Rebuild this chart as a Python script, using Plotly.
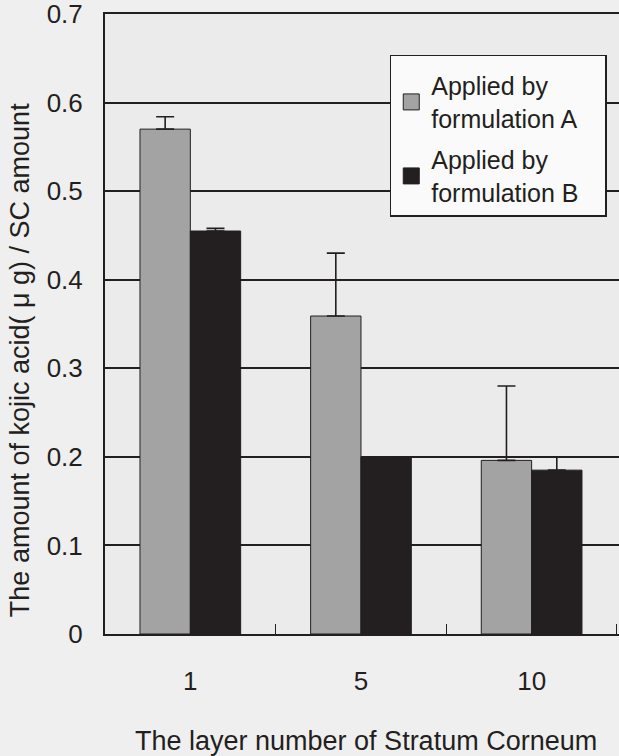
import plotly.graph_objects as go

categories = ["1", "5", "10"]
series_a = [0.570, 0.359, 0.196]
series_a_err = [0.014, 0.071, 0.084]
series_b = [0.455, 0.200, 0.185]
series_b_err = [0.003, 0.0, 0.015]
series_names = ["Applied by<br>formulation A\u00a0\u00a0\u00a0", "Applied by<br>formulation B\u00a0\u00a0\u00a0"]
y_ticks = [0, 0.1, 0.2, 0.3, 0.4, 0.5, 0.6, 0.7]
y_tick_labels = ["0", "0.1", "0.2", "0.3", "0.4", "0.5", "0.6", "0.7"]

FONT = "Liberation Sans"
INK = "#231f20"
GRAY = "#a3a3a3"

fig = go.Figure()
for vals, errs, color, name in [(series_a, series_a_err, GRAY, series_names[0]),
                                (series_b, series_b_err, INK, series_names[1])]:
    fig.add_trace(go.Bar(
        x=categories, y=vals, name=name, showlegend=False, legendgroup=name,
        marker=dict(color=color, line=dict(color=INK, width=1)),
        error_y=dict(type="data", symmetric=False, array=errs,
                     arrayminus=[0, 0, 0], color=INK, thickness=1.6, width=9),
    ))
# legend swatches (larger squares than the default bar swatch)
for color, name in [(GRAY, series_names[0]), (INK, series_names[1])]:
    fig.add_trace(go.Scatter(
        x=[None], y=[None], mode="markers", name=name, legendgroup=name,
        marker=dict(symbol="square", size=16, color=color, line=dict(color=INK, width=1)),
    ))

fig.update_layout(
    width=619, height=756,
    margin=dict(l=105, r=0, t=14, b=122),
    paper_bgcolor="#efefef",
    plot_bgcolor="#ebebeb",
    barmode="group",
    bargap=0.41,
    bargroupgap=0,
    font=dict(family=FONT, size=25, color=INK),
    showlegend=True,
    legend=dict(
        x=0.554, y=0.934, xanchor="left", yanchor="top",
        bgcolor="#fafafa", bordercolor=INK, borderwidth=1.5,
        font=dict(family=FONT, size=25, color=INK),
        title=dict(text="\u00a0", font=dict(size=5)),
        tracegroupgap=6, itemwidth=30, itemsizing="trace",
    ),
    xaxis=dict(
        type="category", range=[-0.5, 2.512],
        showline=True, linecolor=INK, linewidth=2, mirror=True,
        ticks="inside", tickson="boundaries", ticklen=10, tickcolor=INK, tickwidth=1.2,
        ticklabelstandoff=23,
        tickfont=dict(family=FONT, size=26, color=INK),
        showgrid=False,
    ),
    yaxis=dict(
        range=[0, 0.7], tickvals=y_ticks, ticktext=y_tick_labels,
        showline=True, linecolor=INK, linewidth=2,
        showgrid=True, gridcolor=INK, gridwidth=1.5,
        ticks="", ticklabelstandoff=15, ticklabeloverflow="allow",
        tickfont=dict(family=FONT, size=26, color=INK),
        zeroline=False,
    ),
    annotations=[
        dict(text="The layer number of Stratum Corneum", xref="paper", yref="paper",
             x=0.508, y=-0.173, xanchor="center", yanchor="middle", showarrow=False,
             font=dict(family=FONT, size=27, color=INK)),
        dict(text="The amount of kojic acid( μ g) / SC amount", xref="paper", yref="paper",
             x=-0.165, y=0.442, xanchor="center", yanchor="middle", showarrow=False,
             textangle=-90, font=dict(family=FONT, size=27, color=INK)),
    ],
)

fig.write_html("out.html", config={"displayModeBar": False},
               post_script="document.body.style.margin='0px';document.body.style.overflow='hidden';"
                           "document.documentElement.style.overflow='hidden';"
                           "document.body.style.background='#efefef';")
